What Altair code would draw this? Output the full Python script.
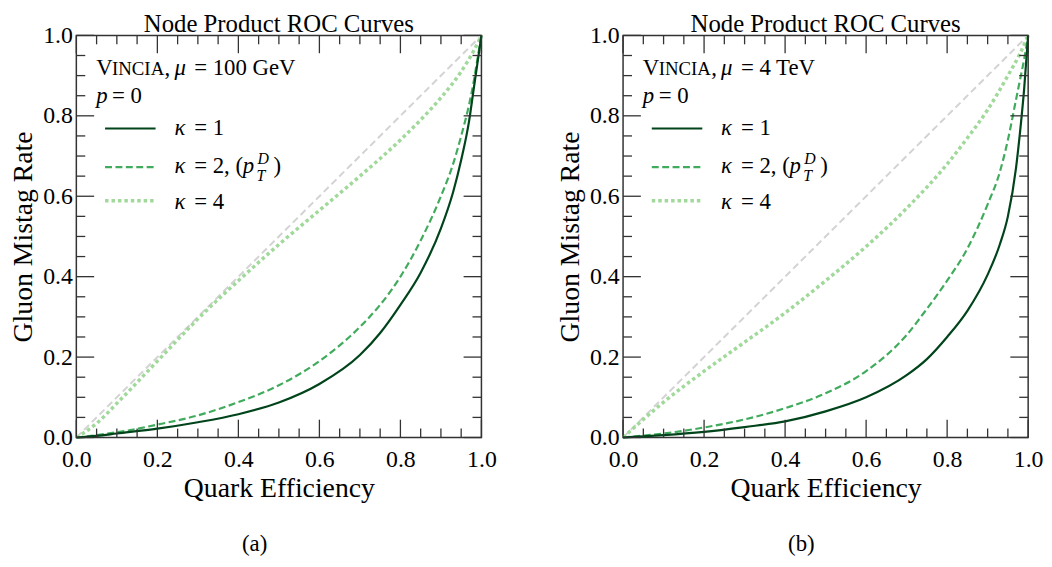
import altair as alt
import pandas as pd

FONT = "Liberation Serif"
W = 409
H = 406

# ---------------- data ----------------
x_grid = [0, 0.05, 0.1, 0.2, 0.3, 0.4, 0.5, 0.6, 0.7, 0.75, 0.8, 0.85, 0.9, 0.93, 0.95, 0.97, 0.98, 0.99, 1.0]
x_grid4 = [0, 0.05, 0.1, 0.2, 0.3, 0.4, 0.5, 0.6, 0.7, 0.8, 0.85, 0.9, 0.95, 0.98, 1.0]

# panel (a): mu = 100 GeV
a_k1 = [0, 0.004, 0.01, 0.022, 0.038, 0.058, 0.087, 0.133, 0.205, 0.26, 0.33, 0.41, 0.52, 0.61, 0.69, 0.79, 0.86, 0.93, 1.0]
a_k2 = [0, 0.006, 0.013, 0.032, 0.055, 0.088, 0.13, 0.19, 0.275, 0.33, 0.40, 0.49, 0.60, 0.68, 0.75, 0.83, 0.88, 0.94, 1.0]
a_k4 = [0, 0.035, 0.085, 0.19, 0.295, 0.39, 0.48, 0.565, 0.65, 0.74, 0.79, 0.845, 0.91, 0.96, 1.0]

# panel (b): mu = 4 TeV
b_k1 = [0, 0.003, 0.006, 0.014, 0.026, 0.04, 0.065, 0.10, 0.155, 0.195, 0.25, 0.315, 0.405, 0.48, 0.55, 0.67, 0.76, 0.865, 1.0]
b_k2 = [0, 0.005, 0.01, 0.025, 0.045, 0.073, 0.11, 0.165, 0.255, 0.32, 0.39, 0.47, 0.58, 0.66, 0.74, 0.84, 0.89, 0.94, 1.0]
b_k4 = [0, 0.045, 0.088, 0.165, 0.237, 0.31, 0.39, 0.475, 0.57, 0.68, 0.745, 0.815, 0.90, 0.955, 1.0]

diag_x = [0.0, 1.0]
diag_y = [0.0, 1.0]

major_ticks = [0.0, 0.2, 0.4, 0.6, 0.8, 1.0]
minor_ticks = [0.05, 0.1, 0.15, 0.25, 0.3, 0.35, 0.45, 0.5, 0.55, 0.65, 0.7, 0.75, 0.85, 0.9, 0.95]

C1 = "#00441b"
C2 = "#41ab5d"
C4 = "#a1d99b"
CG = "#d3d3d3"
FRAME = "#333333"

xs = alt.Scale(domain=[0, 1], nice=False, zero=False)
ys = alt.Scale(domain=[0, 1], nice=False, zero=False)

x_axis = alt.Axis(values=major_ticks, format=".1f", title="Quark Efficiency",
                  ticks=False, domain=False, grid=False, labelFlush=False,
                  labelOverlap=False, labelPadding=10, titlePadding=4)
y_axis = alt.Axis(values=major_ticks, format=".1f", title="Gluon Mistag Rate",
                  ticks=False, domain=False, grid=False, labelFlush=False,
                  labelOverlap=False, labelPadding=4, titlePadding=5)


def curve(xv, yv, color, width, dash=None):
    df = pd.DataFrame({"x": xv, "y": yv})
    kw = dict(color=color, strokeWidth=width, interpolate="monotone", strokeCap="butt")
    if dash:
        kw["strokeDash"] = dash
    return alt.Chart(df).mark_line(**kw).encode(
        x=alt.X("x:Q", scale=xs, axis=x_axis),
        y=alt.Y("y:Q", scale=ys, axis=y_axis),
    )


def tick_layers():
    layers = []
    for vals, ln in ((major_ticks, 18), (minor_ticks, 9)):
        df = pd.DataFrame({"v": vals})
        base = alt.Chart(df).mark_rule(color=FRAME, strokeWidth=1.3)
        layers.append(base.encode(x=alt.X("v:Q", scale=xs, axis=x_axis),
                                  y=alt.value(H), y2=alt.value(H - ln)))
        layers.append(base.encode(x=alt.X("v:Q", scale=xs, axis=x_axis),
                                  y=alt.value(0), y2=alt.value(ln)))
        layers.append(base.encode(y=alt.Y("v:Q", scale=ys, axis=y_axis),
                                  x=alt.value(0), x2=alt.value(ln)))
        layers.append(base.encode(y=alt.Y("v:Q", scale=ys, axis=y_axis),
                                  x=alt.value(W), x2=alt.value(W - ln)))
    return layers


def txt(s, x, y, size=23, italic=False, align="left"):
    return alt.Chart(pd.DataFrame({"t": [s]})).mark_text(
        align=align, baseline="alphabetic", font=FONT, fontSize=size,
        fontStyle="italic" if italic else "normal", color="black"
    ).encode(text="t:N", x=alt.value(x), y=alt.value(y))


def sample(y, color, width, dash=None):
    kw = dict(color=color, strokeWidth=width, strokeCap="butt")
    if dash:
        kw["strokeDash"] = dash
    return alt.Chart(pd.DataFrame({"a": [0]})).mark_rule(**kw).encode(
        x=alt.value(29), x2=alt.value(80), y=alt.value(y))


def panel(k1, k2, k4, energy, caption):
    layers = [
        curve(diag_x, diag_y, CG, 2, [7, 4]),
        curve(x_grid4, k4, C4, 3.5, [3.5, 3]),
        curve(x_grid, k2, C2, 2.2, [7, 3.5]),
        curve(x_grid, k1, C1, 2.2),
    ]
    layers += tick_layers()
    layers += [
        # panel title
        txt("Node Product ROC Curves", W / 2, -3, size=25, align="center"),
        # legend block
        txt("V", 20, 40),
        txt("INCIA", 36, 40, size=19),
        txt(",", 89, 40),
        txt("\u03bc", 99, 40, italic=True),
        txt("= " + energy, 119, 40),
        txt("p", 20, 68, italic=True),
        txt("= 0", 36, 68),
        sample(94, C1, 2.2),
        sample(133, C2, 2.2, [7, 3.5]),
        sample(167, C4, 3.5, [3.5, 3]),
        txt("\u03ba", 99, 101, italic=True),
        txt("= 1", 119, 101),
        txt("\u03ba", 99, 139, italic=True),
        txt("= 2, (", 119, 139),
        txt("p", 168, 139, italic=True),
        txt("D", 183, 130, size=16, italic=True),
        txt("T", 182, 147, size=16, italic=True),
        txt(")", 199, 139),
        txt("\u03ba", 99, 175, italic=True),
        txt("= 4", 119, 175),
        # sub-figure caption
        txt(caption, 180, 521, size=23, align="center"),
    ]
    return alt.layer(*layers).properties(width=W, height=H)


left = panel(a_k1, a_k2, a_k4, "100 GeV", "(a)")
right = panel(b_k1, b_k2, b_k4, "4 TeV", "(b)")

chart = alt.hconcat(left, right, spacing=59).configure(
    padding={"left": 1, "top": 1, "right": 0, "bottom": 0},
    background="white",
).configure_view(
    stroke=FRAME, strokeWidth=1.5
).configure_axis(
    labelFont=FONT, labelFontSize=24, labelColor="black",
    titleFont=FONT, titleFontSize=28, titleFontWeight="normal", titleColor="black",
)

chart.save("out.html", embed_options={"renderer": "svg", "actions": False})
